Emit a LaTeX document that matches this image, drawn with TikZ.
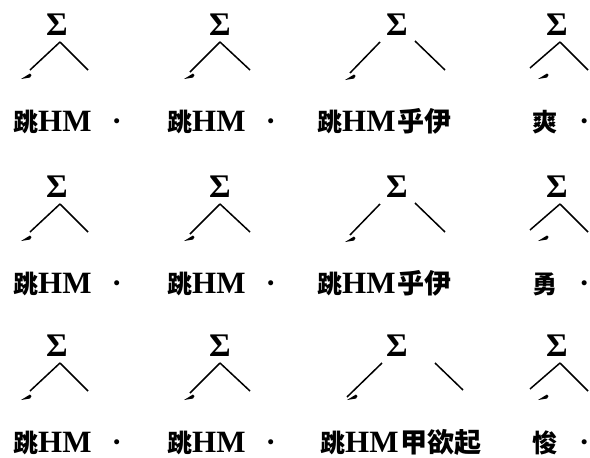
\documentclass[tikz,border=0pt]{standalone}
\usepackage{fontspec}
\setmainfont{Liberation Serif}
\newfontfamily\cjk{Noto Sans CJK SC}
\newcommand\cj[1]{{\cjk\fontsize{25}{28}\selectfont #1}}
\newcommand\cjw[1]{{\cjk\fontsize{27}{30}\selectfont #1}}
\tikzset{
  sig/.style={font=\fontsize{33}{36}\selectfont\bfseries, anchor=base, inner sep=0pt},
  lab/.style={font=\fontsize{31}{34}\selectfont\bfseries, anchor=base west, inner sep=0pt},
  branch/.style={line width=1.5pt},
  brush/.style={fill=black},
}
\begin{document}
\begin{tikzpicture}[x=1pt,y=-1pt]
\useasboundingbox (0,0) rectangle (590,458);
\foreach \r/\dy/\tc/\tf/\tl in {1/0/乎伊/爽/317, 2/162/乎伊/勇/317, 3/321/甲欲起/悛/320}{
  \begin{scope}[yshift=-\dy pt]
  % column 1
  \node[sig] (s1\r) at (57,35) {Σ};
  \coordinate (a1\r) at (60,42);
  \coordinate (l1\r) at (30,70);
  \coordinate (r1\r) at (88,70);
  \draw[branch] (a1\r) -- (l1\r);
  \draw[branch] (a1\r) -- (r1\r);
  \fill[brush] (26,76) +(-5,3) -- +(4,-2.5) -- +(5.5,-1) -- +(4,1.5) -- cycle;
  \node[lab] (t1\r) at (13,131) {\cj{跳}HM\hspace{20pt}·};
  % column 2
  \node[sig] (s2\r) at (220,35) {Σ};
  \coordinate (a2\r) at (220,42);
  \coordinate (l2\r) at (190,72);
  \coordinate (r2\r) at (250,70);
  \draw[branch] (a2\r) -- (l2\r);
  \draw[branch] (a2\r) -- (r2\r);
  \fill[brush] (189,76) +(-5,3) -- +(4,-2.5) -- +(5.5,-1) -- +(4,1.5) -- cycle;
  \node[lab] (t2\r) at (167,131) {\cj{跳}HM\hspace{20pt}·};
  % column 3
  \node[sig] (s3\r) at (397,35) {Σ};
  \ifnum\r=3
    \coordinate (la3\r) at (382,42);
    \coordinate (l3\r) at (347,76);
    \coordinate (ra3\r) at (435,42);
    \coordinate (r3\r) at (463,69);
    \fill[brush] (352,76) +(-5,3) -- +(4,-2.5) -- +(5.5,-1) -- +(4,1.5) -- cycle;
  \else
    \coordinate (la3\r) at (380,42);
    \coordinate (l3\r) at (350,73);
    \coordinate (ra3\r) at (415,41);
    \coordinate (r3\r) at (445,70);
    \fill[brush] (350,77) +(-5,3) -- +(4,-2.5) -- +(5.5,-1) -- +(4,1.5) -- cycle;
  \fi
  \draw[branch] (la3\r) -- (l3\r);
  \draw[branch] (ra3\r) -- (r3\r);
  \node[lab] (t3\r) at (\tl,131) {\cj{跳}HM\hspace{2pt}\cjw{\tc}};
  % column 4
  \node[sig] (s4\r) at (557,35) {Σ};
  \coordinate (a4\r) at (560,42);
  \coordinate (l4\r) at (530,68);
  \coordinate (r4\r) at (588,70);
  \draw[branch] (a4\r) -- (l4\r);
  \draw[branch] (a4\r) -- (r4\r);
  \fill[brush] (543,76) +(-5,3) -- +(4,-2.5) -- +(5.5,-1) -- +(4,1.5) -- cycle;
  \node[lab] (t4\r) at (532,131) {\cj{\tf}\hspace{22pt}·};
  \end{scope}
}
\end{tikzpicture}
\end{document}
